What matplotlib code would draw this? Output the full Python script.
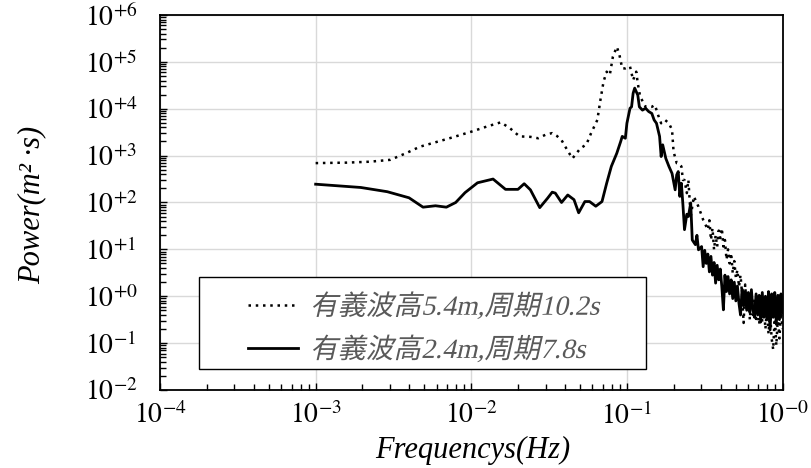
import matplotlib
matplotlib.use("Agg")
import matplotlib.pyplot as plt
import matplotlib.patheffects as pe
import numpy as np
from matplotlib.patches import Rectangle
from matplotlib.ticker import LogLocator, NullFormatter
from matplotlib.transforms import Affine2D

plt.rcParams["mathtext.fontset"] = "stix"
plt.rcParams["font.family"] = ["Liberation Serif", "Noto Sans CJK JP"]

# ── Daten (log10-Werte) ─────────────────────────────────────
series_labels = ["有義波高5.4m,周期10.2s", "有義波高2.4m,周期7.8s"]

# Hs 5.4 m, T 10.2 s (gepunktet)
high_log_f = [-3.00, -2.80, -2.65, -2.52, -2.42, -2.33, -2.15, -2.00, -1.90, -1.81,
              -1.75, -1.69, -1.62, -1.57, -1.52, -1.48, -1.45, -1.42, -1.38, -1.35,
              -1.30, -1.26, -1.23, -1.19, -1.17, -1.15, -1.13, -1.11, -1.09, -1.065,
              -1.05, -1.03, -1.01, -0.98, -0.96, -0.94, -0.93, -0.915, -0.88, -0.84,
              -0.82, -0.80, -0.78, -0.755, -0.73, -0.71, -0.70, -0.68, -0.67, -0.65,
              -0.64, -0.63, -0.615, -0.605, -0.59, -0.57, -0.54, -0.51,
              -0.48, -0.47, -0.46, -0.45, -0.44, -0.43, -0.42, -0.41, -0.40, -0.39,
              -0.38, -0.37, -0.36, -0.35, -0.34, -0.33, -0.32, -0.31, -0.30, -0.29,
              -0.28, -0.27, -0.26, -0.25, -0.24, -0.23, -0.22, -0.21, -0.20, -0.19,
              -0.18, -0.17, -0.16, -0.15, -0.14, -0.13, -0.12, -0.11, -0.10, -0.09,
              -0.08, -0.07, -0.06, -0.05, -0.04, -0.03, -0.02, -0.01, 0.0]
high_log_p = [2.84, 2.85, 2.87, 2.91, 3.05, 3.19, 3.36, 3.51, 3.62, 3.71,
              3.58, 3.41, 3.40, 3.37, 3.45, 3.48, 3.42, 3.33, 3.10, 2.94,
              3.15, 3.24, 3.48, 3.76, 4.19, 4.58, 4.79, 4.72, 5.11, 5.32,
              5.18, 4.86, 4.86, 4.90, 4.61, 4.79, 4.54, 4.26, 4.04, 4.04,
              4.08, 3.87, 3.69, 3.76, 3.69, 3.55, 3.08, 2.84, 2.84, 2.77,
              2.48, 2.48, 2.20, 2.48, 1.70, 2.13, 1.91, 1.63,
              1.42, 1.62, 1.20, 1.45, 0.99, 1.30, 1.06, 1.40, 1.24, 1.45,
              1.06, 1.20, 0.78, 1.00, 0.70, 0.92, 0.49, 0.75, 0.40, 0.56,
              0.20, 0.45, 0.05, -0.57, 0.25, -0.30, 0.10, -0.50, 0.00, -0.40,
              -0.05, -0.55, -0.10, -0.60, -0.15, -0.55, -0.20, -0.70, -0.25, -0.80,
              -0.35, -0.90, -1.14, -0.40, -1.05, -0.45, -0.90, -0.35, -0.70]

# Hs 2.4 m, T 7.8 s (durchgezogen)
low_log_f = [-3.00, -2.71, -2.54, -2.40, -2.31, -2.23, -2.16, -2.10, -2.04, -1.96,
             -1.86, -1.78, -1.70, -1.66, -1.62, -1.56, -1.51, -1.48, -1.46, -1.42,
             -1.38, -1.34, -1.31, -1.27, -1.24, -1.20, -1.16, -1.13, -1.10, -1.065,
             -1.04, -1.03, -1.01, -1.00, -0.98, -0.97, -0.96, -0.95, -0.93, -0.92,
             -0.90, -0.88, -0.86, -0.84, -0.825, -0.81, -0.79, -0.78, -0.77, -0.75,
             -0.73, -0.71, -0.69, -0.68, -0.67, -0.66, -0.65, -0.64, -0.63, -0.615,
             -0.605, -0.59, -0.58, -0.56, -0.55, -0.54,
             -0.52, -0.51, -0.50, -0.49, -0.48, -0.47, -0.46, -0.45, -0.44, -0.43,
             -0.42, -0.41, -0.40, -0.39, -0.38, -0.37, -0.36, -0.35, -0.34, -0.33,
             -0.32, -0.31, -0.30, -0.29, -0.28, -0.27, -0.26, -0.25, -0.24, -0.23,
             -0.22, -0.21, -0.20, -0.19, -0.18, -0.17, -0.16, -0.15, -0.14, -0.13,
             -0.12, -0.11, -0.10, -0.09, -0.08, -0.07, -0.06, -0.05, -0.04, -0.03,
             -0.02, -0.01, 0.0]
low_log_p = [2.39, 2.32, 2.23, 2.10, 1.90, 1.93, 1.90, 2.00, 2.21, 2.42,
             2.50, 2.28, 2.28, 2.40, 2.27, 1.89, 2.09, 2.22, 2.20, 2.00,
             2.16, 2.06, 1.78, 2.02, 2.02, 1.92, 2.02, 2.41, 2.77, 3.05,
             3.30, 3.41, 3.37, 3.69, 4.01, 4.04, 4.33, 4.44, 4.29, 4.04,
             3.97, 4.01, 3.94, 3.90, 3.76, 3.69, 3.41, 2.98, 3.23, 2.94,
             2.77, 2.62, 2.27, 2.59, 2.66, 2.13, 2.41, 1.95, 1.42, 1.75,
             1.70, 1.99, 1.20, 1.10, 1.30, 0.99,
             1.06, 0.63, 0.98, 0.70, 0.90, 0.52, 0.85, 0.45, 0.72, 0.28,
             0.66, 0.35, 0.58, 0.20, -0.29, 0.45, 0.10, 0.42, 0.05, 0.35,
             -0.05, 0.30, -0.10, 0.22, -0.15, -0.40, 0.15, -0.20, 0.10, -0.30,
             0.08, -0.35, 0.14, -0.30, -0.45, 0.05, -0.40, 0.02, -0.55, 0.08,
             -0.45, 0.00, -0.50, 0.10, -0.72, 0.05, -0.45, 0.08, -0.60, 0.02,
             -0.50, 0.05, -0.35]

x_tick_exps = ["-4", "-3", "-2", "-1", "-0"]
y_tick_exps = ["-2", "-1", "+0", "+1", "+2", "+3", "+4", "+5", "+6"]

assert len(high_log_f) == len(high_log_p)
assert len(low_log_f) == len(low_log_p)


# schräggestellte Schrift (CJK-Fonts haben kein Italic)
class Slant(pe.AbstractPathEffect):
    def __init__(self, angle=13):
        super().__init__()
        self.angle = angle

    def draw_path(self, renderer, gc, tpath, affine, rgbFace=None):
        renderer.draw_path(gc, tpath, Affine2D().skew_deg(self.angle, 0) + affine, rgbFace)


# ── Plot ─────────────────────────────────────────────────────
fig = plt.figure(figsize=(8.11, 4.68), dpi=100)
ax = fig.add_axes([0.1973, 0.1667, 0.7676, 0.8013])

ax.plot(10.0 ** np.array(high_log_f), 10.0 ** np.array(high_log_p),
        color="black", linewidth=1.8, linestyle=(0, (1, 1.9)),
        label=series_labels[0])
ax.plot(10.0 ** np.array(low_log_f), 10.0 ** np.array(low_log_p),
        color="black", linewidth=2.0, label=series_labels[1])

ax.set_xscale("log")
ax.set_yscale("log")
ax.set_xlim(1e-4, 1)
ax.set_ylim(1e-2, 1e6)

ax.set_xticks([10.0 ** int(e) for e in x_tick_exps])
ax.set_xticklabels([f"$10^{{{e}}}$" for e in x_tick_exps])
ax.set_yticks([10.0 ** int(e) for e in y_tick_exps])
ax.set_yticklabels([f"$10^{{{e}}}$" for e in y_tick_exps])
ax.xaxis.set_minor_locator(LogLocator(base=10, subs=np.arange(2, 10), numticks=20))
ax.yaxis.set_minor_locator(LogLocator(base=10, subs=np.arange(2, 10), numticks=20))
ax.xaxis.set_minor_formatter(NullFormatter())
ax.yaxis.set_minor_formatter(NullFormatter())

ax.tick_params(which="both", direction="in", color="black", width=1.0)
ax.tick_params(which="major", length=5)
ax.tick_params(which="minor", length=4)
ax.tick_params(axis="x", labelsize=20, pad=9)
# y-Beschriftung linksbündig wie im Original
ax.tick_params(axis="y", labelsize=20, pad=54)
for lbl in ax.get_yticklabels():
    lbl.set_horizontalalignment("left")

ax.grid(True, which="major", color="#d9d9d9", linewidth=1.0)
ax.set_axisbelow(True)
for s in ax.spines.values():
    s.set_linewidth(1.3)
    s.set_color("black")

fig.text(32 / 811, 1 - 205 / 468, "Power(m² ·s)", rotation=90,
         ha="center", va="center", fontsize=22, style="italic")
fig.text(473 / 811, 1 - 450 / 468, "Frequencys(Hz)",
         ha="center", va="center", fontsize=22, style="italic")

# Legendenrahmen
ax.add_patch(Rectangle((0.063, 0.055), 0.717, 0.245, transform=ax.transAxes,
                       facecolor="white", edgecolor="black", linewidth=1.0, zorder=5))
leg = ax.legend(loc="upper left", bbox_to_anchor=(0.1414, 0.259), frameon=False,
                borderpad=0, borderaxespad=0, handlelength=1.8,
                handletextpad=0.43, labelspacing=0.55,
                prop={"style": "normal", "size": 20})
leg.set_zorder(6)
for t in leg.get_texts():
    t.set_color("#595959")
    t.set_path_effects([Slant(13)])

fig.savefig("out.png", dpi=100)
